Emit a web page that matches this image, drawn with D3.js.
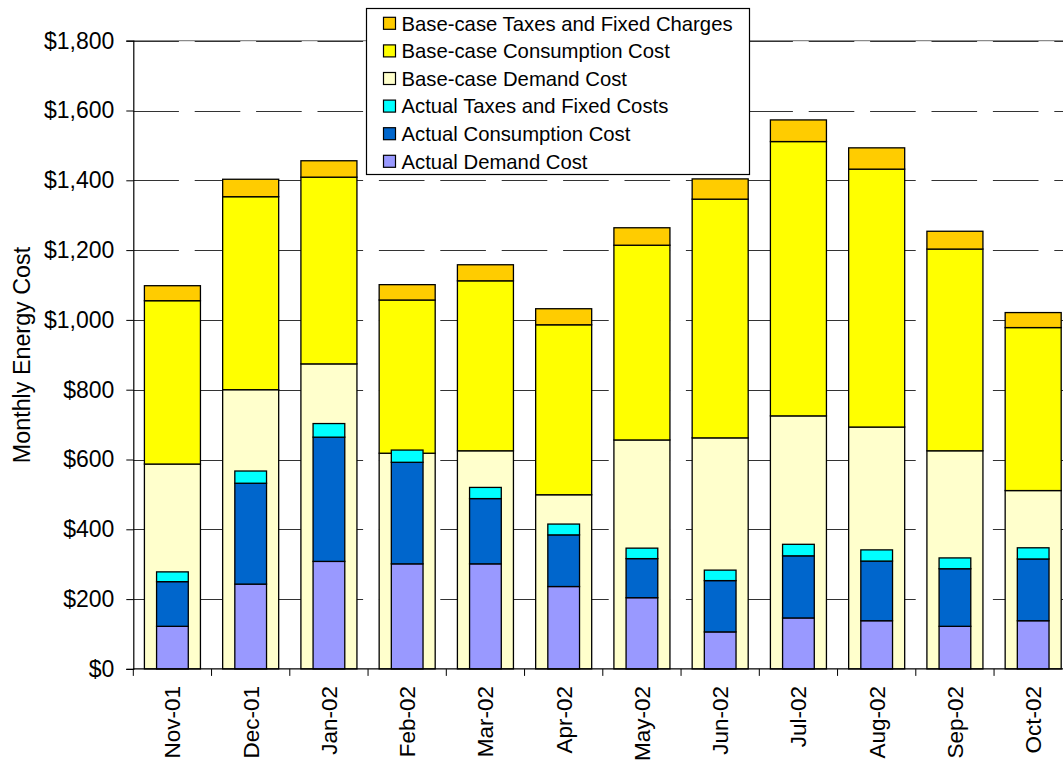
<!DOCTYPE html>
<html><head><meta charset="utf-8">
<script src="https://cdn.jsdelivr.net/npm/d3@7"></script>
<style>html,body{margin:0;padding:0;background:#fff;overflow:hidden}svg{display:block;font-family:Arial,"Liberation Sans",sans-serif}</style>
</head><body>
<svg id="chart" width="1063" height="763"></svg>
<script>
const months = ["Nov-01","Dec-01","Jan-02","Feb-02","Mar-02","Apr-02","May-02","Jun-02","Jul-02","Aug-02","Sep-02","Oct-02"];
const baseDemand = [587, 800, 874, 618, 625, 499, 656, 662, 725, 693, 625, 511];
const baseConsumption = [468, 553, 535, 439, 487, 487, 558, 684, 786, 739, 578, 467];
const baseTaxes = [43, 50, 47, 44, 46, 46, 50, 58, 62, 61, 51, 43];
const actualDemand = [122, 243, 308, 301, 301, 236, 204, 106, 146, 138, 122, 138];
const actualConsumption = [128, 289, 356, 291, 187, 148, 112, 147, 178, 171, 165, 177];
const actualTaxes = [28, 35, 39, 35, 32, 31, 30, 30, 33, 32, 31, 32];
const yTicks = [0, 200, 400, 600, 800, 1000, 1200, 1400, 1600, 1800];

const baseSeries = [
  {name: "Base-case Demand Cost", values: baseDemand, color: "#FFFFCC"},
  {name: "Base-case Consumption Cost", values: baseConsumption, color: "#FFFF00"},
  {name: "Base-case Taxes and Fixed Charges", values: baseTaxes, color: "#FFCC00"}
];
const actualSeries = [
  {name: "Actual Demand Cost", values: actualDemand, color: "#9999FF"},
  {name: "Actual Consumption Cost", values: actualConsumption, color: "#0066CC"},
  {name: "Actual Taxes and Fixed Costs", values: actualTaxes, color: "#00FFFF"}
];

(function () {
const svg = d3.select("#chart");
const pL = 133.3, pR = 1072.3, pT = 40.7, pB = 668.9;

const x = d3.scaleBand().domain(months).range([pL, pR]).paddingInner(0.284).paddingOuter(0.142);
const y = d3.scaleLinear().domain([0, 1800]).range([pB, pT]);

// plot top border (gray)
svg.append("line").attr("x1", pL).attr("x2", pR).attr("y1", y(1800)).attr("y2", y(1800))
  .attr("stroke", "#8c8c8c").attr("stroke-width", 1.2);

// gridlines
svg.append("g").selectAll("line").data(yTicks.filter(d => d > 0)).join("line")
  .attr("x1", pL).attr("x2", pR)
  .attr("y1", d => Math.round(y(d)) + 0.5).attr("y2", d => Math.round(y(d)) + 0.5)
  .attr("stroke", "#333").attr("stroke-width", 1.1)
  .attr("stroke-dasharray", "45.6,15.8");

function stackRows(series) {
  return months.map((m, i) => {
    let acc = 0;
    return series.map(s => { const y0 = acc; acc += s.values[i]; return {m, y0, y1: acc, color: s.color}; });
  }).flat();
}

const bw = x.bandwidth();
svg.append("g").selectAll("rect").data(stackRows(baseSeries)).join("rect")
  .attr("x", d => x(d.m)).attr("width", bw)
  .attr("y", d => y(d.y1)).attr("height", d => y(d.y0) - y(d.y1))
  .attr("fill", d => d.color).attr("stroke", "#000").attr("stroke-width", 1.3);

const aw = bw * 0.566;
svg.append("g").selectAll("rect").data(stackRows(actualSeries)).join("rect")
  .attr("x", d => x(d.m) + (bw - aw) / 2).attr("width", aw)
  .attr("y", d => y(d.y1)).attr("height", d => y(d.y0) - y(d.y1))
  .attr("fill", d => d.color).attr("stroke", "#000").attr("stroke-width", 1.3);

// y axis
const yAxis = svg.append("g").attr("transform", `translate(${pL},0)`)
  .call(d3.axisLeft(y).tickValues(yTicks).tickSize(7).tickPadding(12)
    .tickFormat(d => "$" + d3.format(",")(d)));
yAxis.select(".domain").attr("stroke", "#000").attr("stroke-width", 1.2);
yAxis.selectAll(".tick line").attr("stroke", "#000");
yAxis.selectAll("text").attr("font-size", 23).attr("fill", "#000")
  .attr("font-family", "Arial, 'Liberation Sans', sans-serif");

// x axis
const xAxis = svg.append("g").attr("transform", `translate(0,${pB})`)
  .call(d3.axisBottom(x).tickSize(0).tickPadding(0));
xAxis.select(".domain").remove();
xAxis.append("line").attr("x1", pL).attr("x2", pR).attr("y1", 0).attr("y2", 0)
  .attr("stroke", "#000").attr("stroke-width", 1.2);
const step = x.step();
xAxis.selectAll(".bnd").data(d3.range(months.length + 1)).join("line").attr("class", "bnd")
  .attr("x1", i => pL + i * step).attr("x2", i => pL + i * step)
  .attr("y1", 0).attr("y2", 7).attr("stroke", "#000");
xAxis.selectAll(".tick text")
  .attr("font-size", 22.5).attr("fill", "#000")
  .attr("font-family", "Arial, 'Liberation Sans', sans-serif")
  .attr("text-anchor", "end")
  .attr("dy", "0.35em")
  .attr("transform", "translate(0,17) rotate(-90)")
  .attr("x", 0).attr("y", 0);

// y axis title
svg.append("text").attr("transform", "translate(30,355) rotate(-90)")
  .attr("text-anchor", "middle").attr("font-size", 23.3).attr("fill", "#000")
  .text("Monthly Energy Cost");

// legend
const legendItems = [baseSeries[2], baseSeries[1], baseSeries[0], actualSeries[2], actualSeries[1], actualSeries[0]];
const lg = svg.append("g");
lg.append("rect").attr("x", 366.5).attr("y", 8.5).attr("width", 383).attr("height", 166)
  .attr("fill", "#fff").attr("stroke", "#000").attr("stroke-width", 1.2);
const rows = lg.selectAll("g.row").data(legendItems).join("g").attr("class", "row")
  .attr("transform", (d, i) => `translate(0,${23.3 + i * 27.6})`);
rows.append("rect").attr("x", 383.5).attr("y", -6).attr("width", 12).attr("height", 12)
  .attr("fill", d => d.color).attr("stroke", "#000").attr("stroke-width", 1.2);
rows.append("text").attr("x", 401.5).attr("y", 0).attr("dy", "0.36em")
  .attr("font-size", 20.3).attr("fill", "#000").text(d => d.name);
})();
</script>
</body></html>
